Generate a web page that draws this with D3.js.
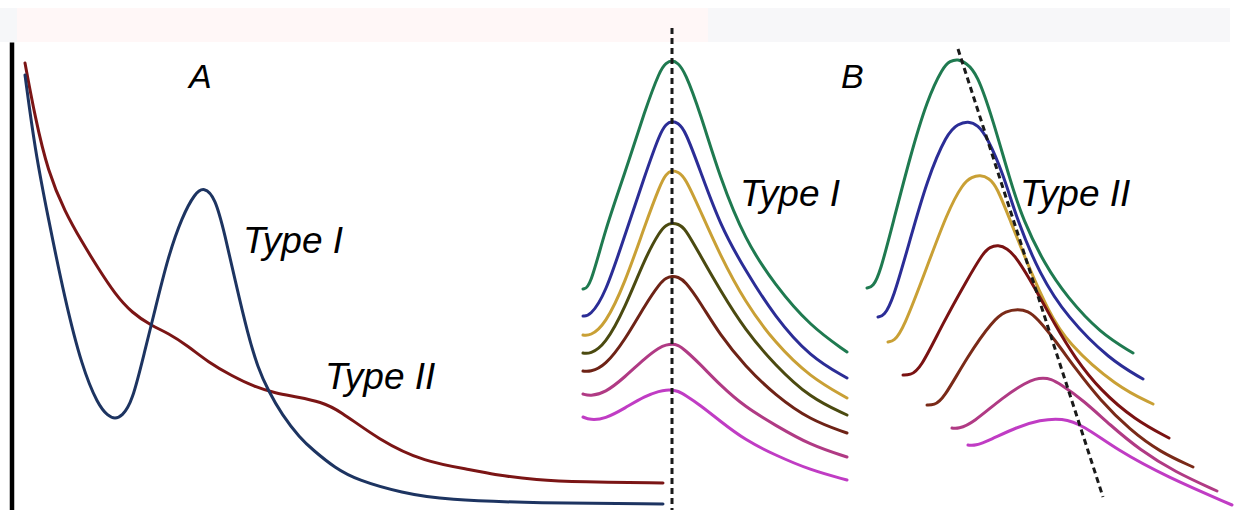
<!DOCTYPE html>
<html>
<head>
<meta charset="utf-8">
<script src="https://cdn.jsdelivr.net/npm/d3@7"></script>
<style>
    body { margin: 0; background: #fff; }
    .curve { fill: none; stroke-width: 3px; stroke-linecap: round; stroke-linejoin: round; }
    .guide { fill: none; stroke: #1a1a1a; stroke-width: 3px; stroke-dasharray: 6,4; }
    .label { font-family: "Liberation Sans", Arial, sans-serif; font-style: italic; fill: #000; }
    .axis path { stroke: #000; stroke-width: 4.5px; }
</style>
</head>
<body>
<div id="chart"></div>
<script>
    // schematic spectra, values (x = position, y = signal)

    // panel A
    var typeI_A = [[25,435],[35,360],[48,293],[65,210],[82,143],[98,105],[108,94],[115,91],[122,94],[132,107],[145,160],[155,200],
        [168,253],[182,293],[195,317],[204,323],[215,313],[225,275],[235,230],[248,175],[258,142],[268,120],
        [282,95],[300,72],[313,60],[335,42],[357,30],[402,17],[446,10],[536,7],[663,6]];
    var typeII_A = [[25,447],[35,393],[48,338],[65,298],[82,268],[98,242],[115,216],[132,197],[152,184],[168,177],
        [188,164],[208,148],[232,134],[255,123],[275,117],[298,113],[321,108],[339,100],[379,70],[424,48],
        [473,40],[496,35],[536,30],[580,28],[663,27]];

    // panel B, Type I: same band position, falling intensity
    var typeI_x = [583, 590, 605, 625, 645, 660, 666, 672, 678, 685, 700, 720, 745, 775, 810, 847];
    var typeI_B = [
        [221, 222, 280, 337, 400, 440, 447, 450, 447, 438, 398, 332, 270, 225, 184, 158],
        [194, 194, 215, 275, 335, 377, 386, 389, 387, 380, 340, 285, 240, 193, 153, 132],
        [175, 174, 185, 227, 285, 325, 336, 340, 338, 333, 300, 255, 208, 167, 133, 112],
        [157, 156, 165, 202, 252, 279, 285, 287, 286, 282, 255, 220, 180, 145, 112, 95],
        [139, 138, 144, 170, 205, 227, 232, 234, 233, 229, 208, 175, 144, 115, 90, 77],
        [116, 114, 117, 133, 152, 163, 165, 166, 165, 160, 146, 125, 103, 85, 65, 53],
        [93, 90, 91, 102, 114, 119, 120, 120, 119, 115, 105, 89, 70, 55, 40, 30]
    ];

    // panel B, Type II: band shifts to the right as it falls
    var typeII_B = [
        [[867,222],[873,223],[880,237],[893,287],[910,353],[927,410],[943,443],[950,449],[958,451],[966,447],[977,437],[993,390],
            [1010,330],[1023,290],[1045,245],[1067,213],[1100,177],[1133,157]],
        [[878,193],[884,194],[893,210],[910,270],[927,330],[947,377],[958,386],[968,389],[978,385],[987,373],[1003,337],[1017,290],
            [1040,235],[1067,193],[1110,150],[1143,131]],
        [[888,168],[894,169],[903,180],[927,243],[947,297],[963,327],[972,333],[980,335],[989,332],[997,323],[1010,290],[1030,240],
            [1048,200],[1067,167],[1117,123],[1153,106]],
        [[903,135],[910,135],[920,140],[943,187],[967,230],[983,257],[990,263],[998,265],[1007,262],[1017,252],[1035,222],[1055,185],
            [1075,152],[1100,120],[1135,90],[1169,72]],
        [[927,105],[934,105],[943,110],[967,153],[993,190],[1006,199],[1018,201],[1028,199],[1037,192],[1055,170],[1075,142],[1100,110],
            [1130,80],[1160,58],[1193,43]],
        [[952,82],[958,81],[973,87],[1003,113],[1027,128],[1035,131],[1043,132],[1051,131],[1060,126],[1083,110],[1110,85],[1140,60],
            [1175,38],[1217,19]],
        [[968,65],[975,64],[990,70],[1017,83],[1040,90],[1062,92],[1083,85],[1117,60],[1167,33],[1232,5]]
    ];

    var typeI_guide = [[672,482],[672,0]];
    var typeII_guide = [[958,461],[1103,13]];

    var colorsA = ["#1d3461", "#7b1515"];
    var colorsI = ["#1f7a50", "#2b2d96", "#c9a035", "#4b4a10", "#6e2316", "#b03a84", "#c03cc4"];
    var colorsII = ["#1f7a50", "#2b2d96", "#c9a035", "#7a1212", "#7a2a18", "#b03a84", "#c03cc4"];

    var width = 1237, height = 510;

    var svg = d3.select("#chart").append("svg")
        .attr("width", width)
        .attr("height", height);

    var x = d3.scaleLinear().domain([0, 1237]).range([0, width]);
    var y = d3.scaleLinear().domain([0, 468]).range([510, 42]);

    // faint strip along the top
    svg.append("rect").attr("x", 0).attr("y", 8).attr("width", 17).attr("height", 34).attr("fill", "#f6f7f9");
    svg.append("rect").attr("x", 17).attr("y", 8).attr("width", 691).attr("height", 34).attr("fill", "#fff7f7");
    svg.append("rect").attr("x", 708).attr("y", 8).attr("width", 522).attr("height", 34).attr("fill", "#f7f7f9");

    var line = d3.line()
        .x(function (d) { return x(d[0]); })
        .y(function (d) { return y(d[1]); })
        .curve(d3.curveBasis);

    // left axis, no ticks
    svg.append("g")
        .attr("class", "axis")
        .attr("transform", "translate(11.5,0)")
        .call(d3.axisLeft(y).tickValues([]).tickSizeOuter(0));

    svg.append("path").datum(typeII_A).attr("class", "curve").attr("stroke", colorsA[1]).attr("d", line);
    svg.append("path").datum(typeI_A).attr("class", "curve").attr("stroke", colorsA[0]).attr("d", line);

    svg.selectAll(".typeI").data(typeI_B).enter()
        .append("path")
        .attr("class", "curve typeI")
        .attr("stroke", function (d, i) { return colorsI[i]; })
        .attr("d", function (d) {
            return line(d.map(function (v, i) { return [typeI_x[i], v]; }));
        });

    svg.selectAll(".typeII").data(typeII_B).enter()
        .append("path")
        .attr("class", "curve typeII")
        .attr("stroke", function (d, i) { return colorsII[i]; })
        .attr("d", line);

    var straight = d3.line()
        .x(function (d) { return x(d[0]); })
        .y(function (d) { return y(d[1]); });
    svg.append("path").datum(typeI_guide).attr("class", "guide").attr("d", straight);
    svg.append("path").datum(typeII_guide).attr("class", "guide").attr("d", straight);

    function label(txt, px, py, size) {
        svg.append("text")
            .attr("class", "label")
            .attr("x", px)
            .attr("y", py)
            .attr("font-size", size + "px")
            .text(txt);
    }
    label("A", 189, 88, 34);
    label("B", 841, 88, 34);
    label("Type I", 243, 253, 37);
    label("Type II", 325, 389, 37);
    label("Type I", 740, 206, 37);
    label("Type II", 1020, 206, 37);
</script>
</body>
</html>
